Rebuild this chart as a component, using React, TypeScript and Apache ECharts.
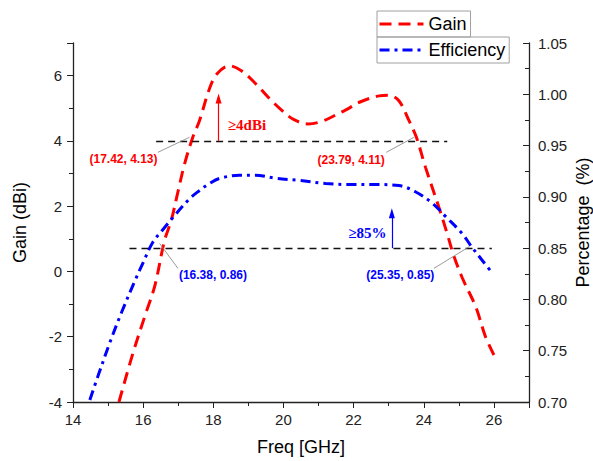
import React, { useEffect, useRef } from "react";
import * as echarts from "echarts";

// Gain (dBi) curve: frequency (GHz) and value
const gainFreq = [15.31, 15.71, 16.07, 16.33, 16.61, 16.8, 16.99, 17.18, 17.42, 17.6, 17.89, 18.1, 18.46, 18.8, 19.22, 19.6, 19.97, 20.3, 20.7, 21.1, 21.5, 21.78, 22.2, 22.73, 23.0, 23.29, 23.58, 23.79, 24.05, 24.43, 24.67, 24.85, 25.1, 25.48, 25.76, 26.0];
const gainValues = [-4.0, -2.5, -1.3, -0.45, 0.95, 1.56, 2.43, 3.29, 4.13, 4.6, 5.6, 6.05, 6.3, 6.15, 5.74, 5.3, 4.92, 4.65, 4.52, 4.6, 4.8, 4.95, 5.2, 5.38, 5.4, 5.23, 4.62, 4.11, 3.19, 1.97, 1.15, 0.5, -0.2, -1.08, -2.0, -2.56];

// Efficiency curve (right axis)
const effFreq = [14.48, 14.71, 15.04, 15.38, 15.75, 16.0, 16.28, 16.56, 16.85, 17.32, 17.6, 17.89, 18.18, 18.74, 19.2, 19.8, 20.45, 21.2, 21.87, 22.6, 23.29, 23.76, 24.24, 24.62, 25.1, 25.35, 25.67, 25.9];
const effValues = [0.702, 0.725, 0.757, 0.787, 0.817, 0.836, 0.856, 0.868, 0.88, 0.898, 0.906, 0.913, 0.918, 0.921, 0.921, 0.918, 0.916, 0.913, 0.912, 0.912, 0.911, 0.905, 0.894, 0.881, 0.864, 0.852, 0.838, 0.828];

// Reference levels and annotations
const gainLevel = 4;
const gainLevelRange = [16.37, 24.67];
const effLevel = 0.85;
const effLevelRange = [15.61, 25.94];
const gainArrow = { x: 18.15, from: 4, to: 5.3 };
const effArrow = { x: 23.09, from: 0.85, to: 0.884 };

const gainNotes = [
  { text: "(17.42, 4.13)", at: [15.44, 3.46], leader: [[16.42, 3.65], [17.32, 4.11]] },
  { text: "(23.79, 4.11)", at: [21.93, 3.4], leader: [[22.93, 3.65], [23.72, 4.11]] },
];
const effNotes = [
  { text: "(16.38, 0.86)", at: [17.99, 0.8238], leader: [[16.47, 0.8546], [16.99, 0.8303]] },
  { text: "(25.35, 0.85)", at: [23.33, 0.8238], leader: [[24.29, 0.8303], [25.29, 0.8513]] },
];
const gainBadge = { text: "≥4dBi", at: [18.96, 4.49] };
const effBadge = { text: "≥85%", at: [22.39, 0.865] };

const RED = "#ff0000";
const BLUE = "#0000ff";
const SANS = "Liberation Sans, Arial, sans-serif";
const SERIF = "Liberation Serif, Times New Roman, serif";
const GAIN_DASH = [12, 7];
const EFF_DASH = [10, 5, 3, 5];

export default function App() {
  const ref = useRef<HTMLDivElement>(null);

  useEffect(() => {
    if (!ref.current) return;
    const chart = echarts.init(ref.current, undefined, { renderer: "svg" });

    const gainData = gainFreq.map((f, i) => [f, gainValues[i]]);
    const effData = effFreq.map((f, i) => [f, effValues[i]]);

    const plainEnd = { symbol: "none" };
    const leaderStyle = { color: "#808080", width: 0.8, type: "solid" };

    const gainMarkLines: any[] = [
      [
        { coord: [gainLevelRange[0], gainLevel], ...plainEnd, lineStyle: { color: "#111", width: 1.3, type: [7, 5] } },
        { coord: [gainLevelRange[1], gainLevel], ...plainEnd },
      ],
      [
        { coord: [gainArrow.x, gainArrow.from], symbol: "none", lineStyle: { color: RED, width: 1.2, type: "solid" } },
        { coord: [gainArrow.x, gainArrow.to], symbol: "triangle", symbolSize: [6, 10] },
      ],
      ...gainNotes.map((n) => [
        { coord: n.leader[0], ...plainEnd, lineStyle: leaderStyle },
        { coord: n.leader[1], ...plainEnd },
      ]),
    ];
    const effMarkLines: any[] = [
      [
        { coord: [effLevelRange[0], effLevel], ...plainEnd, lineStyle: { color: "#111", width: 1.3, type: [7, 5] } },
        { coord: [effLevelRange[1], effLevel], ...plainEnd },
      ],
      [
        { coord: [effArrow.x, effArrow.from], symbol: "none", lineStyle: { color: BLUE, width: 1.2, type: "solid" } },
        { coord: [effArrow.x, effArrow.to], symbol: "triangle", symbolSize: [6, 10] },
      ],
      ...effNotes.map((n) => [
        { coord: n.leader[0], ...plainEnd, lineStyle: leaderStyle },
        { coord: n.leader[1], ...plainEnd },
      ]),
    ];

    const noteLabel = (text: string, color: string) => ({
      show: true,
      position: "inside",
      formatter: text,
      color,
      fontFamily: SANS,
      fontWeight: "bold",
      fontSize: 12,
    });
    const badgeLabel = (text: string, color: string) => ({
      show: true,
      position: "inside",
      formatter: text,
      color,
      fontFamily: SERIF,
      fontWeight: "bold",
      fontSize: 15,
    });

    const legendBase = {
      left: 377,
      orient: "vertical",
      borderColor: "#a0a0a0",
      borderWidth: 1,
      borderRadius: 0,
      itemWidth: 44,
      itemHeight: 14,
      padding: [4, 4, 4, 1],
      textStyle: { fontSize: 18, fontFamily: SANS, color: "#000" },
      selectedMode: false,
      itemStyle: { opacity: 0 },
    };

    const axisLabelStyle = { fontSize: 15, fontFamily: SANS, color: "#222" };
    const axisNameStyle = { fontSize: 18, fontFamily: SANS, color: "#000" };
    const axisLineStyle = { show: true, onZero: false, lineStyle: { color: "#222", width: 1.3 } };

    chart.setOption({
      animation: false,
      backgroundColor: "#ffffff",
      grid: { left: 73, right: 64, top: 43, bottom: 59, containLabel: false, outerBoundsMode: "none" },
      legend: [
        { ...legendBase, top: 11, data: ["Gain"], lineStyle: { color: RED, width: 3, type: GAIN_DASH } },
        { ...legendBase, top: 37, data: ["Efficiency"], lineStyle: { color: BLUE, width: 3, type: EFF_DASH } },
      ],
      xAxis: {
        type: "value",
        min: 14,
        max: 27,
        interval: 2,
        name: "Freq [GHz]",
        nameLocation: "middle",
        nameGap: 36,
        nameTextStyle: axisNameStyle,
        axisLine: axisLineStyle,
        axisTick: { show: true, inside: false, length: 6, lineStyle: { color: "#222" } },
        minorTick: { show: true, splitNumber: 2, length: 4, lineStyle: { color: "#222" } },
        splitLine: { show: false },
        axisLabel: { ...axisLabelStyle, margin: 10, showMaxLabel: false },
      },
      yAxis: [
        {
          type: "value",
          position: "left",
          min: -4,
          max: 7,
          interval: 2,
          name: "Gain (dBi)",
          nameLocation: "middle",
          nameGap: 44,
          nameRotate: 90,
          nameTextStyle: axisNameStyle,
          axisLine: axisLineStyle,
          axisTick: { show: true, inside: false, length: 6, lineStyle: { color: "#222" } },
          minorTick: { show: true, splitNumber: 2, length: 4, lineStyle: { color: "#222" } },
          splitLine: { show: false },
          axisLabel: { ...axisLabelStyle, margin: 11, showMaxLabel: false },
        },
        {
          type: "value",
          position: "right",
          min: 0.7,
          max: 1.05,
          interval: 0.05,
          name: "Percentage  (%)",
          nameLocation: "middle",
          nameGap: 45,
          nameMoveOverlap: false,
          nameRotate: 90,
          nameTextStyle: axisNameStyle,
          axisLine: axisLineStyle,
          axisTick: { show: true, inside: true, length: 6, lineStyle: { color: "#222" } },
          minorTick: { show: true, splitNumber: 2, length: 4, lineStyle: { color: "#222" } },
          splitLine: { show: false },
          axisLabel: { ...axisLabelStyle, margin: 9, formatter: (v: number) => v.toFixed(2) },
        },
      ],
      series: [
        {
          name: "Gain",
          type: "line",
          yAxisIndex: 0,
          data: gainData,
          smooth: 0.35,
          symbol: "none",
          color: RED,
          lineStyle: { color: RED, width: 3, type: GAIN_DASH },
          silent: true,
          markLine: { silent: true, animation: false, label: { show: false }, symbol: "none", data: gainMarkLines, lineStyle: { color: RED } },
          markPoint: {
            silent: true,
            symbol: "circle",
            symbolSize: 0,
            data: [
              ...gainNotes.map((n) => ({ coord: n.at, label: noteLabel(n.text, RED) })),
              { coord: gainBadge.at, label: badgeLabel(gainBadge.text, RED) },
            ],
          },
        },
        {
          name: "Efficiency",
          type: "line",
          yAxisIndex: 1,
          data: effData,
          smooth: 0.35,
          symbol: "none",
          color: BLUE,
          lineStyle: { color: BLUE, width: 3, type: EFF_DASH },
          silent: true,
          markLine: { silent: true, animation: false, label: { show: false }, symbol: "none", data: effMarkLines, lineStyle: { color: BLUE } },
          markPoint: {
            silent: true,
            symbol: "circle",
            symbolSize: 0,
            data: [
              ...effNotes.map((n) => ({ coord: n.at, label: noteLabel(n.text, BLUE) })),
              { coord: effBadge.at, label: badgeLabel(effBadge.text, BLUE) },
            ],
          },
        },
      ],
    });

    return () => chart.dispose();
  }, []);

  return (
    <div
      ref={ref}
      style={{ position: "fixed", left: 0, top: 0, width: 593, height: 461, background: "#fff" }}
    />
  );
}
